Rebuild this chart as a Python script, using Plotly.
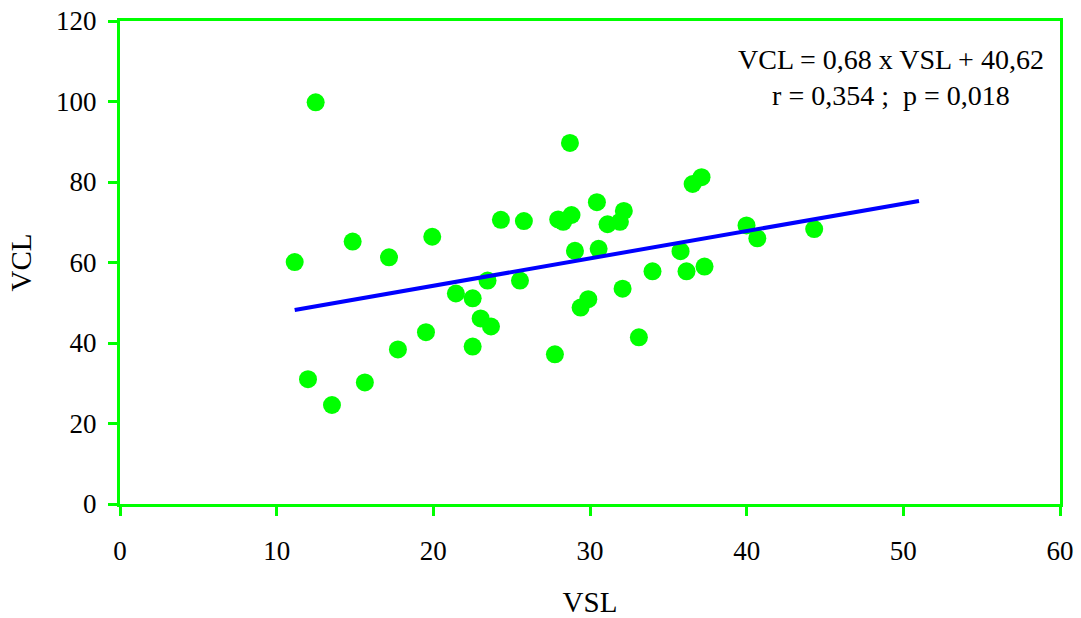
import plotly.graph_objects as go

# Data
vsl = [12.49, 28.72, 11.15, 14.85, 17.17, 19.93, 24.31, 25.78, 27.97, 28.29,
       28.82, 30.44, 31.12, 31.91, 32.16, 29.04, 30.55, 23.46, 25.53, 21.44,
       22.51, 23.02, 23.68, 19.53, 17.74, 22.51, 27.76, 29.40, 29.89, 32.08,
       33.99, 33.12, 12.00, 15.63, 13.53, 37.12, 36.55, 39.99, 40.68, 44.31,
       35.78, 36.16, 37.31]
vcl = [99.8, 89.7, 60.1, 65.2, 61.3, 66.4, 70.6, 70.3, 70.7, 70.1,
       71.8, 75.0, 69.5, 70.1, 72.8, 62.9, 63.4, 55.5, 55.5, 52.3,
       51.1, 46.1, 44.1, 42.7, 38.4, 39.1, 37.2, 48.8, 50.9, 53.5,
       57.8, 41.4, 31.0, 30.2, 24.6, 81.2, 79.5, 69.2, 66.0, 68.3,
       62.8, 57.8, 59.0]

slope = 0.68
intercept = 40.62
trend_x = [min(vsl), 51.0]
trend_y = [slope * x + intercept for x in trend_x]

x_ticks = [0, 10, 20, 30, 40, 50, 60]
y_ticks = [0, 20, 40, 60, 80, 100, 120]

FONT = "Liberation Serif, Times New Roman, serif"
GREEN = "#00FF00"

fig = go.Figure()
fig.add_trace(go.Scatter(
    x=vsl, y=vcl, mode="markers",
    marker=dict(color=GREEN, size=18, line=dict(width=0)),
    showlegend=False, hoverinfo="x+y"))
fig.add_trace(go.Scatter(
    x=trend_x, y=trend_y, mode="lines",
    line=dict(color="#0000FF", width=4),
    showlegend=False))

axis_common = dict(
    showline=True, linecolor=GREEN, linewidth=3, mirror=True,
    ticks="outside", ticklen=9, tickwidth=3, tickcolor=GREEN,
    showgrid=False, zeroline=False, automargin=False,
    tickfont=dict(family=FONT, size=27, color="black"),
)

fig.update_layout(
    width=1081, height=618,
    margin=dict(l=120, r=21, t=21, b=114),
    paper_bgcolor="white", plot_bgcolor="white",
    font=dict(family=FONT, color="black"),
    xaxis=dict(range=[0, 60], tickvals=x_ticks, ticklabelstandoff=12,
               title=dict(text="VSL", font=dict(family=FONT, size=29), standoff=36),
               **axis_common),
    yaxis=dict(range=[0, 120], tickvals=y_ticks, ticklabelstandoff=6,
               title=dict(text="VCL", font=dict(family=FONT, size=29), standoff=16),
               **axis_common),
    annotations=[dict(
        x=0.82, y=0.882, xref="paper", yref="paper",
        xanchor="center", yanchor="middle",
        text="VCL = 0,68 x VSL + 40,62<br>r = 0,354 ;  p = 0,018",
        showarrow=False, align="center",
        font=dict(family=FONT, size=28, color="black"))],
)

fig.write_html("out.html")
